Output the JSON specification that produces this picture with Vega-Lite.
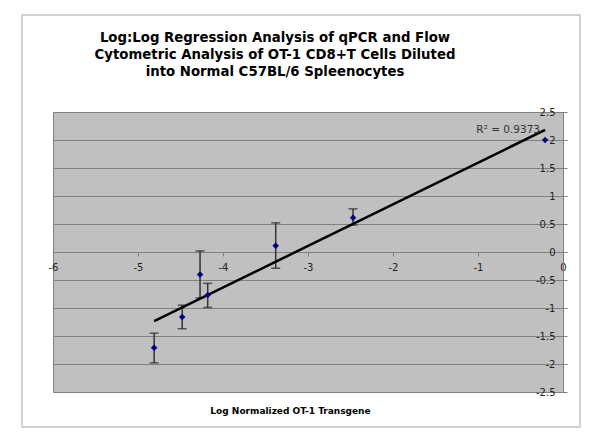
{
  "$schema": "https://vega.github.io/schema/vega-lite/v6.json",
  "width": 510,
  "height": 280,
  "autosize": {"type": "none"},
  "padding": {"left": 53, "top": 112, "right": 37, "bottom": 56},
  "background": "white",
  "config": {
    "view": {"fill": "#C0C0C0", "stroke": "#808080", "strokeWidth": 1},
    "font": "DejaVu Sans"
  },
  "title": {
    "text": ["Log:Log Regression Analysis of qPCR and Flow", "Cytometric Analysis of OT-1 CD8+T Cells Diluted", "into Normal C57BL/6 Spleenocytes"],
    "font": "DejaVu Sans",
    "fontWeight": "bold",
    "fontSize": 13.3,
    "lineHeight": 17,
    "anchor": "middle",
    "dx": -33,
    "offset": -64,
    "color": "black"
  },
  "data": {
    "values": [
      {"x": -4.81, "y": -1.71, "lo": -1.98, "hi": -1.45},
      {"x": -4.48, "y": -1.16, "lo": -1.37, "hi": -0.95},
      {"x": -4.27, "y": -0.40, "lo": -0.82, "hi": 0.02},
      {"x": -4.18, "y": -0.77, "lo": -0.99, "hi": -0.56},
      {"x": -3.38, "y": 0.11, "lo": -0.29, "hi": 0.52},
      {"x": -2.47, "y": 0.61, "lo": 0.48, "hi": 0.77},
      {"x": -0.21, "y": 2.00, "lo": null, "hi": null}
    ]
  },
  "layer": [
    {
      "data": {"values": [{}]},
      "mark": {"type": "rect", "fill": "transparent", "stroke": "#C4C4C4", "strokeWidth": 1.5, "clip": false},
      "encoding": {
        "x": {"datum": -6.365, "type": "quantitative", "scale": {"domain": [-6, 0], "nice": false, "zero": false}},
        "x2": {"datum": 0.2},
        "y": {"datum": 4.232, "type": "quantitative", "scale": {"domain": [-2.5, 2.5], "nice": false, "zero": false}},
        "y2": {"datum": -3.125}
      }
    },
    {
      "transform": [{"filter": "datum.lo != null"}],
      "mark": {"type": "rule", "color": "#333333", "strokeWidth": 1.5},
      "encoding": {
        "x": {"field": "x", "type": "quantitative"},
        "y": {"field": "lo", "type": "quantitative"},
        "y2": {"field": "hi"}
      }
    },
    {
      "transform": [{"filter": "datum.lo != null"}],
      "mark": {"type": "tick", "orient": "horizontal", "color": "#222222", "size": 9, "thickness": 1.5},
      "encoding": {
        "x": {"field": "x", "type": "quantitative"},
        "y": {"field": "lo", "type": "quantitative"}
      }
    },
    {
      "transform": [{"filter": "datum.hi != null"}],
      "mark": {"type": "tick", "orient": "horizontal", "color": "#222222", "size": 9, "thickness": 1.5},
      "encoding": {
        "x": {"field": "x", "type": "quantitative"},
        "y": {"field": "hi", "type": "quantitative"}
      }
    },
    {
      "transform": [{"regression": "y", "on": "x"}],
      "mark": {"type": "line", "color": "black", "strokeWidth": 2.5},
      "encoding": {
        "x": {"field": "x", "type": "quantitative"},
        "y": {"field": "y", "type": "quantitative"}
      }
    },
    {
      "mark": {"type": "point", "shape": "diamond", "filled": true, "color": "#000080", "size": 42, "opacity": 1},
      "encoding": {
        "x": {
          "field": "x",
          "type": "quantitative",
          "scale": {"domain": [-6, 0], "nice": false, "zero": false},
          "axis": {
            "orient": "bottom",
            "offset": -140,
            "values": [-6, -5, -4, -3, -2, -1, 0],
            "tickCount": 20,
            "grid": false,
            "domainColor": "#808080",
            "tickColor": "#808080",
            "tickSize": 4,
            "labelPadding": 6,
            "labelFontSize": 10,
            "labelColor": "#222222",
            "labelFlush": false,
            "labelOverlap": false,
            "labelExpr": "'' + datum.value",
            "title": "Log Normalized OT-1 Transgene",
            "titleFontSize": 9,
            "titleFontWeight": "bold",
            "titleColor": "black",
            "titleX": 237,
            "titleY": 161,
            "titleAlign": "center",
            "titleBaseline": "alphabetic"
          }
        },
        "y": {
          "field": "y",
          "type": "quantitative",
          "scale": {"domain": [-2.5, 2.5], "nice": false, "zero": false},
          "axis": {
            "orient": "right",
            "values": [-2.5, -2, -1.5, -1, -0.5, 0, 0.5, 1, 1.5, 2, 2.5],
            "tickCount": 20,
            "grid": true,
            "gridColor": "#808080",
            "gridOpacity": 1,
            "domainColor": "#808080",
            "tickColor": "#808080",
            "tickSize": 4,
            "labelAlign": "right",
            "labelBaseline": "middle",
            "labelPadding": -12,
            "labelFontSize": 10,
            "labelColor": "#222222",
            "labelFlush": false,
            "labelOverlap": false,
            "labelExpr": "'' + datum.value",
            "title": null
          }
        }
      }
    },
    {
      "data": {"values": [{"label": "R² = 0.9373"}]},
      "mark": {"type": "text", "align": "right", "baseline": "middle", "fontSize": 10.5, "color": "#333333"},
      "encoding": {
        "x": {"datum": -0.27, "type": "quantitative"},
        "y": {"datum": 2.18, "type": "quantitative"},
        "text": {"field": "label"}
      }
    }
  ]
}
